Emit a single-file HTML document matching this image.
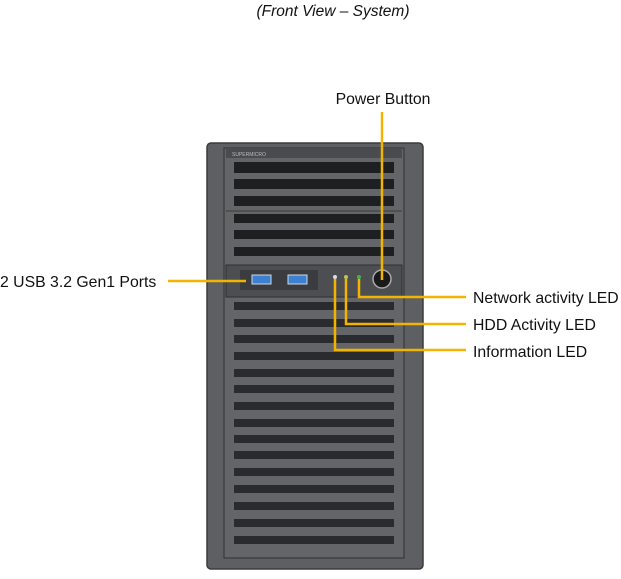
<!DOCTYPE html>
<html><head><style>
body{margin:0;background:#fff;width:621px;height:574px;overflow:hidden;font-family:"Liberation Sans",sans-serif}
</style></head><body>
<svg width="621" height="574" xmlns="http://www.w3.org/2000/svg" font-family="Liberation Sans, sans-serif">
<text x="333" y="16" font-size="15.5" font-style="italic" text-anchor="middle" fill="#111">(Front View – System)</text>
<!-- chassis -->
<rect x="207" y="143" width="216" height="426" rx="4" fill="#5e5f62"/>
<rect x="207" y="143" width="216" height="426" rx="4" fill="none" stroke="#3a3b3d" stroke-width="1.5"/>
<rect x="224" y="148" width="180" height="410" fill="#646568" stroke="#2f3032" stroke-width="1"/>
<rect x="226" y="149" width="176" height="9" fill="#4a4b4e"/>
<text x="232" y="156" font-size="5" fill="#bbb">SUPERMICRO</text>
<!-- drive bays -->
<g fill="#1e1f21">
<rect x="234" y="162" width="160" height="11"/>
<rect x="234" y="179" width="160" height="10"/>
<rect x="234" y="196" width="160" height="10"/>
<rect x="234" y="214" width="160" height="9"/>
<rect x="234" y="230" width="160" height="9"/>
<rect x="234" y="247" width="160" height="9"/>
</g>
<line x1="226" y1="211" x2="402" y2="211" stroke="#3a3b3d"/>
<!-- control panel -->
<rect x="226" y="265" width="176" height="32" fill="#4d4e51" stroke="#2f3032"/>
<rect x="240" y="270" width="78" height="20" fill="#3b3c3f"/>
<rect x="252" y="275" width="19" height="9" fill="#3d7fd0" stroke="#cfd8e6"/>
<rect x="288" y="275" width="19" height="9" fill="#3d7fd0" stroke="#cfd8e6"/>
<circle cx="335" cy="277" r="2" fill="#ddd"/>
<circle cx="346" cy="277" r="2" fill="#b9c94a"/>
<circle cx="359" cy="277" r="2" fill="#4fae4a"/>
<circle cx="382" cy="279" r="9" fill="#1a1a1c" stroke="#aaa" stroke-width="1.5"/>
<!-- vents -->
<g fill="#2a2b2e">
<rect x="234" y="302" width="160" height="8"/><rect x="234" y="319" width="160" height="8"/>
<rect x="234" y="335" width="160" height="8"/><rect x="234" y="352" width="160" height="8"/>
<rect x="234" y="369" width="160" height="8"/><rect x="234" y="385" width="160" height="8"/>
<rect x="234" y="402" width="160" height="8"/><rect x="234" y="419" width="160" height="8"/>
<rect x="234" y="435" width="160" height="8"/><rect x="234" y="451" width="160" height="8"/>
<rect x="234" y="468" width="160" height="8"/><rect x="234" y="485" width="160" height="8"/>
<rect x="234" y="502" width="160" height="8"/><rect x="234" y="519" width="160" height="8"/>
<rect x="234" y="536" width="160" height="8"/>
</g>
<!-- callouts -->
<g stroke="#f2b400" stroke-width="2.5" fill="none">
<line x1="382" y1="112" x2="382" y2="280"/>
<line x1="168" y1="281" x2="246" y2="281"/>
<polyline points="359,279 359,297 466,297"/>
<polyline points="346,279 346,324 466,324"/>
<polyline points="335,279 335,350 466,350"/>
</g>
<g font-size="15.8" fill="#111">
<text x="383" y="104" text-anchor="middle">Power Button</text>
<text x="0" y="287">2 USB 3.2 Gen1 Ports</text>
<text x="473" y="303">Network activity LED</text>
<text x="473" y="330">HDD Activity LED</text>
<text x="473" y="357">Information LED</text>
</g>
</svg>
</body></html>
